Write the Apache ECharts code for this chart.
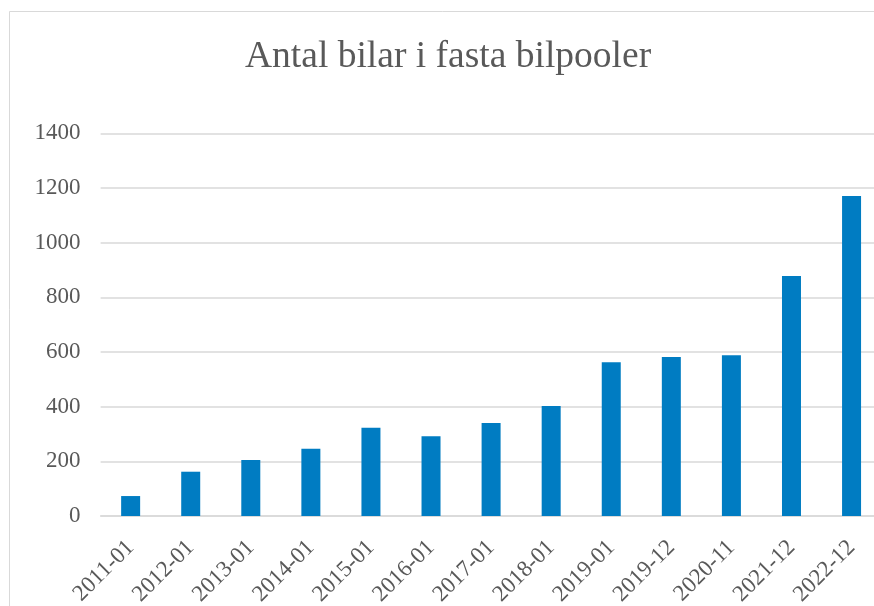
<!DOCTYPE html>
<html>
<head>
<meta charset="utf-8">
<script src="https://cdn.jsdelivr.net/npm/echarts@6/dist/echarts.min.js"></script>
<style>
html,body{margin:0;padding:0;background:#fff;}
#chart{width:874px;height:606px;}
</style>
</head>
<body>
<div id="chart"></div>
<script>
var categories = ['2011-01','2012-01','2013-01','2014-01','2015-01','2016-01','2017-01','2018-01','2019-01','2019-12','2020-11','2021-12','2022-12'];
var values = [73, 162, 205, 246, 323, 292, 340, 402, 562, 582, 588, 878, 1171];
var yTicks = [0, 200, 400, 600, 800, 1000, 1200, 1400];

var chart = echarts.init(document.getElementById('chart'), null, {renderer: 'canvas'});
var font = '"Liberation Serif", "Times New Roman", serif';
chart.setOption({
  animation: false,
  backgroundColor: '#ffffff',
  graphic: [{
    type: 'rect',
    shape: {x: 9.5, y: 11.5, width: 900, height: 700},
    style: {fill: 'none', stroke: '#d9d9d9', lineWidth: 1},
    silent: true
  }],
  title: {
    text: 'Antal bilar i fasta bilpooler',
    left: 240,
    top: 33,
    textStyle: {fontFamily: font, fontSize: 37.5, fontWeight: 'normal', color: '#595959'}
  },
  grid: {left: 100.6, right: -7.6, top: 133.3, bottom: 90, containLabel: false, outerBoundsMode: 'none'},
  xAxis: {
    type: 'category',
    data: categories,
    axisLine: {show: true, lineStyle: {color: '#d9d9d9', width: 1.5}},
    axisTick: {show: false},
    axisLabel: {rotate: 45, interval: 0, margin: 28, hideOverlap: false, fontFamily: font, fontSize: 23, color: '#595959'}
  },
  yAxis: {
    type: 'value',
    min: yTicks[0],
    max: yTicks[yTicks.length - 1],
    interval: 200,
    axisLine: {show: false},
    axisTick: {show: false},
    splitLine: {lineStyle: {color: '#d9d9d9', width: 1.5}},
    axisLabel: {margin: 20, fontFamily: font, fontSize: 23, color: '#595959', formatter: function (v) { return String(v); }}
  },
  series: [{
    type: 'bar',
    data: values,
    barWidth: 19,
    itemStyle: {color: '#007cc2'}
  }]
});
</script>
</body>
</html>
